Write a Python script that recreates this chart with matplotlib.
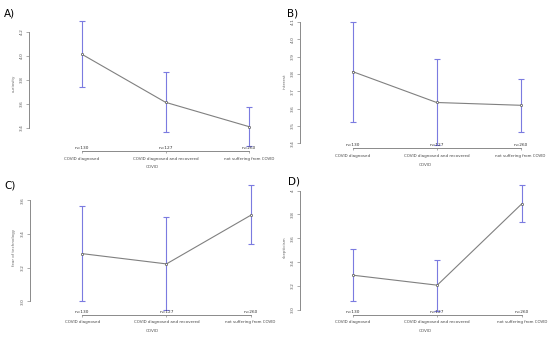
import numpy as np
import matplotlib
matplotlib.use('Agg')
import matplotlib.pyplot as plt

# group names and sizes
categories = ['COVID diagnosed', 'COVID diagnosed and recovered', 'not suffering from COVID']
n_labels = ['n=130', 'n=127', 'n=260']

# means with upper / lower CI
curiosity_mean = [4.014, 3.614, 3.411]
curiosity_hi = [4.29, 3.869, 3.575]
curiosity_lo = [3.74, 3.364, 3.25]

interest_mean = [3.813, 3.635, 3.619]
interest_hi = [4.10, 3.885, 3.769]
interest_lo = [3.523, 3.389, 3.467]

fear_mean = [3.283, 3.222, 3.511]
fear_hi = [3.568, 3.499, 3.689]
fear_lo = [3.00, 2.945, 3.339]

skept_mean = [3.29, 3.206, 3.889]
skept_hi = [3.508, 3.421, 4.045]
skept_lo = [3.071, 2.987, 3.735]

panels = [
    dict(tag='A)', ylabel='curiosity', mean=curiosity_mean, hi=curiosity_hi, lo=curiosity_lo,
         ticks=[3.4, 3.6, 3.8, 4.0, 4.2], tlabels=['3.4', '3.6', '3.8', '4.0', '4.2'],
         pos=[0.0527, 0.5519, 0.4473, 0.4036], xlim=(0.365, 3.31), ylim=(3.208, 4.342),
         tagxy=(0.008, 0.975)),
    dict(tag='B)', ylabel='interest', mean=interest_mean, hi=interest_hi, lo=interest_lo,
         ticks=[3.4, 3.5, 3.6, 3.7, 3.8, 3.9, 4.0, 4.1],
         tlabels=['3.4', '3.5', '3.6', '3.7', '3.8', '3.9', '4.0', '4.1'],
         pos=[0.5455, 0.5599, 0.4545, 0.3955], xlim=(0.373, 3.35), ylim=(3.371, 4.139),
         tagxy=(0.522, 0.975)),
    dict(tag='C)', ylabel='fear of technology', mean=fear_mean, hi=fear_hi, lo=fear_lo,
         ticks=[3.0, 3.2, 3.4, 3.6], tlabels=['3.0', '3.2', '3.4', '3.6'],
         pos=[0.0545, 0.0662, 0.4455, 0.3997], xlim=(0.379, 3.289), ylim=(2.920, 3.721),
         tagxy=(0.008, 0.465)),
    dict(tag='D)', ylabel='skepticism', mean=skept_mean, hi=skept_hi, lo=skept_lo,
         ticks=[3.0, 3.2, 3.4, 3.6, 3.8, 4.0], tlabels=['3.0', '3.2', '3.4', '3.6', '3.8', '4'],
         pos=[0.5455, 0.0662, 0.4545, 0.3997], xlim=(0.376, 3.335), ylim=(2.958, 4.09),
         tagxy=(0.523, 0.475)),
]

fig = plt.figure(figsize=(5.5, 3.37), dpi=100)
fig.patch.set_facecolor('white')

x = np.arange(1, len(categories) + 1)
bar_col = '#7b7be0'
axis_col = '#8a8a8a'

for p in panels:
    ax = fig.add_axes(p['pos'])
    mean = np.array(p['mean'])
    yerr = [mean - np.array(p['lo']), np.array(p['hi']) - mean]
    ax.errorbar(x, mean, yerr=yerr, fmt='none', ecolor=bar_col, elinewidth=0.8,
                capsize=2.5, capthick=0.8, clip_on=False, zorder=2)
    ax.plot(x, mean, color='#808080', lw=0.8, marker='o', ms=1.6, mfc='white',
            mec='#555555', mew=0.5, zorder=3, clip_on=False)

    ax.set_xlim(*p['xlim'])
    ax.set_ylim(*p['ylim'])
    for s in ['top', 'right']:
        ax.spines[s].set_visible(False)
    ax.spines['left'].set_bounds(p['ticks'][0], p['ticks'][-1])
    ax.spines['bottom'].set_bounds(1, 3)
    for s in ['left', 'bottom']:
        ax.spines[s].set_color(axis_col)
        ax.spines[s].set_linewidth(0.7)

    ax.set_yticks(p['ticks'])
    ax.set_yticklabels(p['tlabels'], rotation=90, va='center', fontsize=3.2, color='#555555')
    ax.tick_params(axis='y', length=2, width=0.5, color=axis_col, pad=1.5)
    ax.set_xticks(x)
    ax.set_xticklabels(categories, fontsize=2.9, color='#444444')
    ax.tick_params(axis='x', length=1.5, width=0.5, color=axis_col, pad=2.5)
    ax.set_xlabel('COVID', fontsize=3.0, color='#555555', labelpad=3.5)
    ax.set_ylabel(p['ylabel'], fontsize=2.9, color='#666666', labelpad=3.5)

    for xi, lab in zip(x, n_labels):
        ax.annotate(lab, (xi, 0), xycoords=('data', 'axes fraction'), xytext=(0, 0.8),
                    textcoords='offset points', ha='center', va='bottom',
                    fontsize=3.1, color='#333333')

    fig.text(p['tagxy'][0], p['tagxy'][1], p['tag'], fontsize=7.5, ha='left', va='top')

fig.savefig('out.png', dpi=100, facecolor='white')
